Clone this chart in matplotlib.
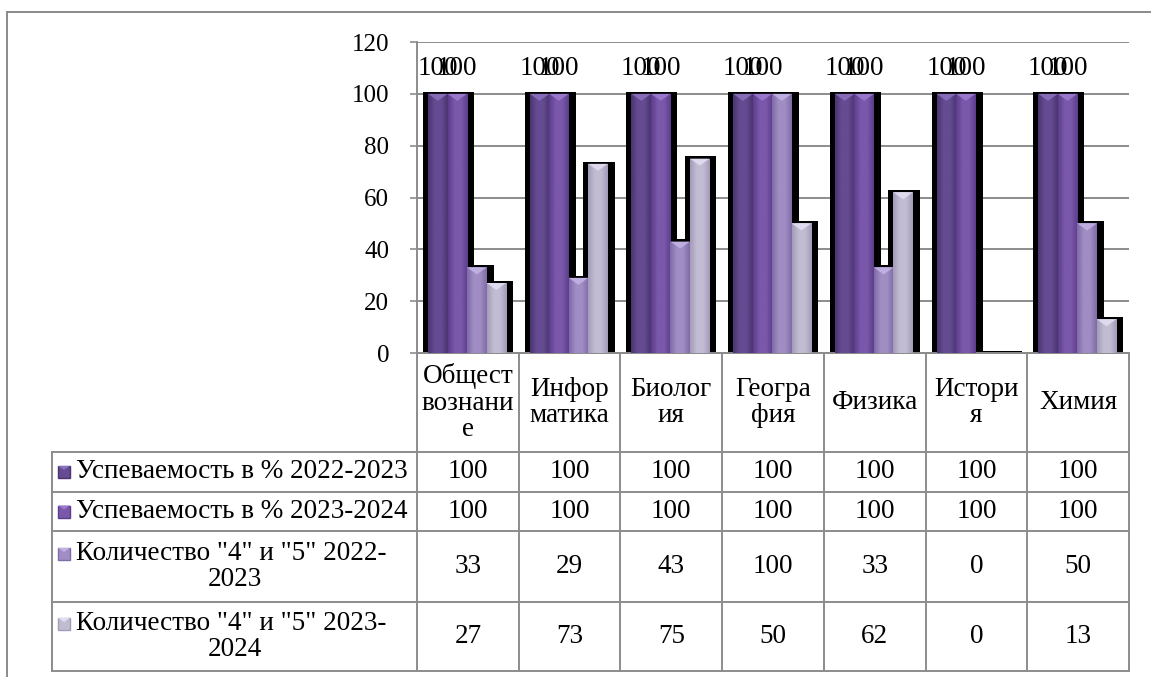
import matplotlib
matplotlib.use("Agg")
import matplotlib.pyplot as plt
import numpy as np
from matplotlib.patches import Rectangle, Polygon
from matplotlib.colors import LinearSegmentedColormap
from matplotlib.lines import Line2D

# ---------------- data ----------------
category_labels = ["Общест\nвознани\nе", "Инфор\nматика", "Биолог\nия", "Геогра\nфия",
                   "Физика", "Истори\nя", "Химия"]
series_names = ["Успеваемость в % 2022-2023", "Успеваемость в % 2023-2024",
                'Количество "4" и "5" 2022-2023', 'Количество "4" и "5" 2023-2024']
perf_2022 = [100, 100, 100, 100, 100, 100, 100]
perf_2023 = [100, 100, 100, 100, 100, 100, 100]
good_2022 = [33, 29, 43, 100, 33, 0, 50]
good_2023 = [27, 73, 75, 50, 62, 0, 13]
series_values = [perf_2022, perf_2023, good_2022, good_2023]
labelled_series = [0, 1]
y_ticks = [0, 20, 40, 60, 80, 100, 120]

# ---------------- style ----------------
W, H, DPI = 1151, 677, 100
FONT = "Liberation Serif"
FS = 19.5
FS_TICK = 18
edge_cols = ["#4a3570", "#5c3d8c", "#7f6ba6", "#a39bb8"]
mid_cols = ["#654b91", "#7a58aa", "#a08dc4", "#c2bcd3"]
top_cols = ["#8a70bd", "#9b7ad0", "#c2b2e4", "#e2ddf0"]
GRID = "#8c8c8c"
LINE = "#8c8c8c"

AX_L, AX_R, AX_T, AX_B = 417, 1129, 42, 353
ROW_EDGES = [353, 452, 492, 531, 602, 671]
LEG_L = 52

plt.rcParams["font.family"] = [FONT, "DejaVu Sans"]
fig = plt.figure(figsize=(W / DPI, H / DPI), dpi=DPI)
fig.patch.set_facecolor("white")

ax = fig.add_axes([AX_L / W, 1 - AX_B / H, (AX_R - AX_L) / W, (AX_B - AX_T) / H])
n_cat = len(category_labels)
ax.set_xlim(0, n_cat)
ax.set_ylim(0, 120)
ax.set_yticks(y_ticks)
ax.set_yticklabels([str(t) for t in y_ticks], fontsize=FS_TICK, family=FONT)
ax.tick_params(axis="y", length=5, color=GRID, pad=15, width=1.2)
ax.set_xticks([])
ax.grid(axis="y", color=GRID, linewidth=1.4)
ax.set_axisbelow(True)
for s in ["top", "right"]:
    ax.spines[s].set_visible(False)
for s in ["left", "bottom"]:
    ax.spines[s].set_color(LINE)
    ax.spines[s].set_linewidth(1.4)
ax.set_facecolor("none")

px_x = (AX_R - AX_L) / n_cat       # pixels per x unit
px_y = (AX_B - AX_T) / 120.0       # pixels per y unit
bar_w = 19.5 / px_x
group_c = 0.492

# shadows first
for k, vals in enumerate(series_values):
    for i, v in enumerate(vals):
        xc = i + group_c + (k - 1.5) * bar_w
        ax.add_patch(Rectangle((xc - bar_w / 2 - 5 / px_x, 0), bar_w + 12 / px_x, v + 2.2 / px_y,
                               facecolor="black", edgecolor="none", zorder=2))

for k, vals in enumerate(series_values):
    cmap = LinearSegmentedColormap.from_list(
        "c%d" % k, [edge_cols[k], mid_cols[k], mid_cols[k], edge_cols[k]])
    grad = np.linspace(0, 1, 64).reshape(1, -1)
    xs = [i + group_c + (k - 1.5) * bar_w for i in range(n_cat)]
    bars = ax.bar(xs, vals, width=bar_w, color=mid_cols[k], edgecolor="none",
                  zorder=3, label=series_names[k])
    for b, xc, v in zip(bars, xs, vals):
        if v <= 0:
            b.set_facecolor("#d9d9d9")
            continue
        im = ax.imshow(grad, cmap=cmap, aspect="auto", zorder=3.5,
                       extent=(xc - bar_w / 2, xc + bar_w / 2, 0, v))
        im.set_clip_path(b)
        bev = 7 / px_y
        ax.add_patch(Polygon([(xc - bar_w / 2, v), (xc + bar_w / 2, v), (xc, v - bev)],
                             closed=True, facecolor=top_cols[k], edgecolor="none",
                             alpha=0.9, zorder=4))
    if k in labelled_series:
        for xc, v in zip(xs, vals):
            ax.annotate(str(v), (xc, v), xytext=(0, 25 * 72 / DPI), textcoords="offset points",
                        ha="center", va="center", fontsize=FS, family=FONT, zorder=6)
ax.set_xlim(0, n_cat)
ax.set_ylim(0, 120)

# ---------------- overlay: border + data table ----------------
ov = fig.add_axes([0, 0, 1, 1])
ov.set_xlim(0, W)
ov.set_ylim(H, 0)
ov.axis("off")
ov.set_zorder(-1)

# outer chart border
ov.add_line(Line2D([7, W], [12, 12], color="#8a8a8a", lw=1.4))
ov.add_line(Line2D([7, 7], [12, H], color="#8a8a8a", lw=1.4))

col_edges = [AX_L + i * px_x for i in range(n_cat + 1)]
lw_t = 1.4
for j, y in enumerate(ROW_EDGES):
    x0 = AX_L if j == 0 else LEG_L
    ov.add_line(Line2D([x0, AX_R], [y, y], color=LINE, lw=lw_t))
for x in col_edges:
    ov.add_line(Line2D([x, x], [ROW_EDGES[0], ROW_EDGES[-1]], color=LINE, lw=lw_t))
ov.add_line(Line2D([LEG_L, LEG_L], [ROW_EDGES[1], ROW_EDGES[-1]], color=LINE, lw=lw_t))

# category header
hc = (ROW_EDGES[0] + ROW_EDGES[1]) / 2
for i, lab in enumerate(category_labels):
    ov.text((col_edges[i] + col_edges[i + 1]) / 2, hc, lab, ha="center", va="center",
            fontsize=FS, family=FONT, linespacing=1.08)

# series rows
leg_c = (LEG_L + AX_L) / 2
for k, vals in enumerate(series_values):
    y0, y1 = ROW_EDGES[k + 1], ROW_EDGES[k + 2]
    yc = (y0 + y1) / 2
    name = series_names[k]
    if len(name) > 27:
        cut = name.rfind("-") + 1
        lines = [name[:cut], name[cut:]]
        ys = [yc - 12.5, yc + 13]
    else:
        lines = [name]
        ys = [yc]
    ky = ys[0]
    ov.add_patch(Rectangle((58, ky - 6), 12, 12, facecolor=mid_cols[k], edgecolor=edge_cols[k], lw=1))
    ov.add_patch(Polygon([(58, ky - 6), (70, ky - 6), (64, ky - 2)], closed=True,
                         facecolor=top_cols[k], edgecolor="none"))
    ov.text(76, ys[0], lines[0], ha="left", va="center", fontsize=FS, family=FONT)
    if len(lines) > 1:
        ov.text(leg_c, ys[1], lines[1], ha="center", va="center", fontsize=FS, family=FONT)
    for i, v in enumerate(vals):
        ov.text((col_edges[i] + col_edges[i + 1]) / 2, yc, str(v), ha="center", va="center",
                fontsize=FS, family=FONT)

fig.savefig("out.png", dpi=DPI, facecolor="white")
